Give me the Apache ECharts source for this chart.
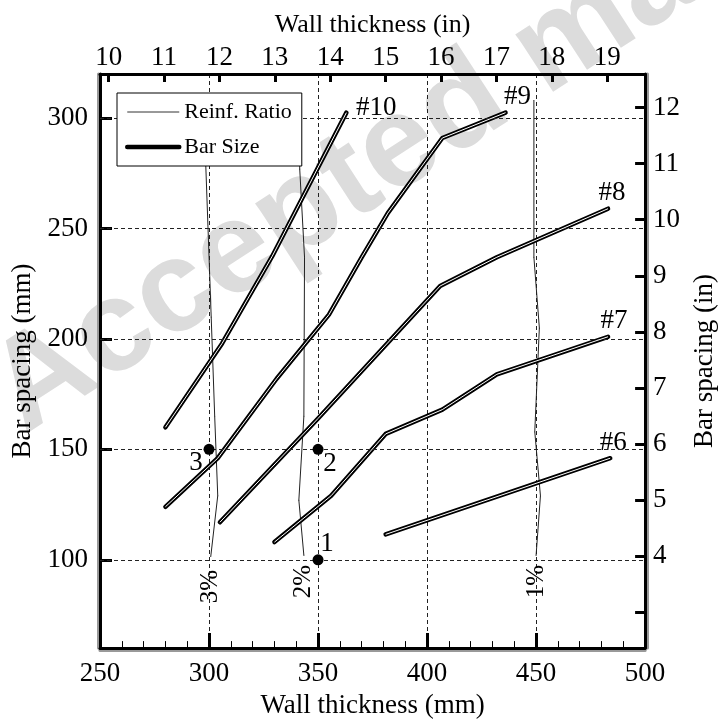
<!DOCTYPE html>
<html>
<head>
<meta charset="utf-8">
<script src="https://cdn.jsdelivr.net/npm/echarts@6/dist/echarts.min.js"></script>
<style>
html, body { margin: 0; padding: 0; background: #fff; }
#chart { width: 726px; height: 724px; }
</style>
</head>
<body>
<div id="chart"></div>
<script>
var FONT = '"Liberation Serif", "Times New Roman", serif';

// bar size curves: wall thickness (mm) vs bar spacing (mm)
var barNames = ['#10', '#9', '#8', '#7', '#6'];
var bar10X = [280, 306, 329, 363];
var bar10Y = [160, 198, 237.5, 302.5];
var bar9X = [280, 304, 331, 355, 370, 382, 407, 436];
var bar9Y = [124, 146, 182, 211, 237, 257, 291, 302.5];
var bar8X = [305, 350, 406, 432, 483];
var bar8Y = [117, 164, 224, 237, 259];
var bar7X = [330, 356, 381, 407, 432, 483];
var bar7Y = [108, 129, 157, 168, 184, 201];
var bar6X = [381, 484];
var bar6Y = [111.5, 146];

// reinforcement ratio curves
var ratioNames = ['3%', '2%', '1%'];
var ratio3X = [300.8, 304, 302.6, 301, 298.5, 298.3];
var ratio3Y = [101.5, 129, 165, 210, 279, 300];
var ratio2X = [343.5, 341.2, 343.5, 343.8, 341.6, 341.6];
var ratio2Y = [102, 127, 165, 237, 277, 300];
var ratio1X = [450, 452, 449.4, 451.5, 449, 449];
var ratio1Y = [102, 129, 158, 205, 237, 308];

// numbered design points
var pointNames = ['1', '2', '3'];
var pointX = [350, 350, 300];
var pointY = [100, 150, 150];

// axis ticks
var mmTicksY = [100, 150, 200, 250, 300];
var inTicksX = [10, 11, 12, 13, 14, 15, 16, 17, 18, 19];
var inLabelsY = [4, 5, 6, 7, 8, 9, 10, 11, 12];
var inTicksY = [3, 4, 5, 6, 7, 8, 9, 10, 11, 12];

var MM = 25.4;

function pairs(xs, ys) {
	return xs.map(function (x, i) { return [x, ys[i]]; });
}

var barXs = [bar10X, bar9X, bar8X, bar7X, bar6X];
var barYs = [bar10Y, bar9Y, bar8Y, bar7Y, bar6Y];
// where each bar label sits next to the end of its curve
var barLabelPos = [
	{ position: 'right', distance: 9, offset: [0, -5] },
	{ position: 'top', distance: 2, offset: [12, 0] },
	{ position: 'top', distance: 2, offset: [4, 0] },
	{ position: 'top', distance: 2, offset: [6, 0] },
	{ position: 'top', distance: 1, offset: [3, 0] }
];
var ratioXs = [ratio3X, ratio2X, ratio1X];
var ratioYs = [ratio3Y, ratio2Y, ratio1Y];
var ratioLabelOffset = [[-5, 0], [-1, 0], [-1, 0]];
var pointLabelOffset = [[9, -16], [12, 15], [-13, 14]];

var series = [];

// dashed horizontal grid lines
series.push({
	name: 'grid',
	type: 'line',
	data: [],
	z: 1,
	silent: true,
	markLine: {
		silent: true,
		symbol: 'none',
		animation: false,
		label: { show: false },
		lineStyle: { color: '#222', width: 1, type: [4, 3] },
		data: mmTicksY.map(function (v) { return { yAxis: v }; })
	}
});

ratioNames.forEach(function (name, k) {
	var pts = pairs(ratioXs[k], ratioYs[k]);
	series.push({
		name: 'Reinf. Ratio',
		type: 'line',
		symbol: 'circle',
		symbolSize: 1,
		z: 3,
		itemStyle: { color: '#222' },
		lineStyle: { color: '#222', width: 1 },
		data: pts.map(function (p, i) {
			if (i > 0) return p;
			return {
				value: p,
				label: {
					show: true,
					formatter: name,
					position: 'bottom',
					rotate: 90,
					align: 'right',
					verticalAlign: 'middle',
					distance: 8,
					offset: ratioLabelOffset[k],
					fontSize: 25,
					fontFamily: FONT,
					color: '#000'
				}
			};
		})
	});
});

barNames.forEach(function (name, k) {
	var pts = pairs(barXs[k], barYs[k]);
	var last = pts.length - 1;
	series.push({
		name: 'Bar Size',
		type: 'line',
		symbol: 'circle',
		symbolSize: 1,
		z: 4,
		itemStyle: { color: '#000' },
		lineStyle: { color: '#000', width: 4.5, cap: 'round', join: 'round' },
		data: pts.map(function (p, i) {
			if (i < last) return p;
			return {
				value: p,
				label: Object.assign({
					show: true,
					formatter: name,
					fontSize: 27,
					fontFamily: FONT,
					color: '#000'
				}, barLabelPos[k])
			};
		})
	});
	// white core of the double line
	series.push({
		name: 'core',
		type: 'line',
		symbol: 'none',
		z: 5,
		silent: true,
		lineStyle: { color: '#fff', width: 1 },
		data: pts
	});
});

series.push({
	name: 'points',
	type: 'scatter',
	symbol: 'circle',
	symbolSize: 11,
	z: 6,
	itemStyle: { color: '#000', opacity: 1 },
	data: pointNames.map(function (name, i) {
		return {
			value: [pointX[i], pointY[i]],
			label: {
				show: true,
				formatter: name,
				position: 'inside',
				offset: pointLabelOffset[i],
				fontSize: 27,
				fontFamily: FONT,
				color: '#000',
				opacity: 1,
				textBorderWidth: 0
			}
		};
	})
});

var option = {
	animation: false,
	backgroundColor: '#fff',
	textStyle: { fontFamily: FONT, color: '#000' },
	graphic: [{
		type: 'text',
		z: -1,
		silent: true,
		x: 5,
		y: 405,
		rotation: 33 * Math.PI / 180,
		style: {
			text: 'Accepted manuscript',
			fill: '#dcdcdc',
			font: 'bold 130px "Liberation Sans"',
			align: 'left',
			verticalAlign: 'middle'
		}
	}],
	grid: { left: 100, right: 69, top: 74, bottom: 70 },
	legend: {
		data: [
			{ name: 'Reinf. Ratio', lineStyle: { width: 1, color: '#333' } },
			{ name: 'Bar Size', lineStyle: { width: 4.5, color: '#000' } }
		],
		selectedMode: false,
		orient: 'vertical',
		left: 117,
		top: 93,
		padding: [8, 10, 8, 8],
		itemGap: 13,
		itemWidth: 52,
		itemHeight: 14,
		backgroundColor: '#fff',
		borderColor: '#000',
		borderWidth: 1,
		z: 10,
		itemStyle: { opacity: 0 },
		textStyle: { fontSize: 22, fontFamily: FONT, color: '#000' }
	},
	xAxis: [{
		type: 'value',
		position: 'bottom',
		min: 250,
		max: 500,
		interval: 50,
		name: 'Wall thickness (mm)',
		nameLocation: 'middle',
		nameGap: 41,
		nameTextStyle: { fontSize: 27, fontFamily: FONT, color: '#000' },
		axisLine: { lineStyle: { color: '#000', width: 3, shadowColor: '#999', shadowOffsetY: 2 } },
		axisTick: { inside: true, length: 15, lineStyle: { color: '#000', width: 3 } },
		minorTick: { show: true, splitNumber: 5, length: 7, lineStyle: { color: '#000', width: 1 } },
		axisLabel: { fontSize: 27, fontFamily: FONT, color: '#000', margin: 12 },
		splitLine: { show: true, lineStyle: { color: '#222', width: 1, type: [4, 3] } }
	}, {
		type: 'value',
		position: 'top',
		min: 250,
		max: 500,
		name: 'Wall thickness (in)',
		nameLocation: 'middle',
		nameGap: 36,
		nameTextStyle: { fontSize: 26, fontFamily: FONT, color: '#000' },
		axisLine: { lineStyle: { color: '#000', width: 3 } },
		axisTick: {
			inside: true,
			length: 8,
			lineStyle: { color: '#000', width: 3 },
			customValues: inTicksX.map(function (v) { return v * MM; })
		},
		axisLabel: {
			fontSize: 27,
			fontFamily: FONT,
			color: '#000',
			margin: 3,
			customValues: inTicksX.map(function (v) { return v * MM; }),
			formatter: function (v) { return String(Math.round(v / MM)); }
		},
		splitLine: { show: false }
	}],
	yAxis: [{
		type: 'value',
		position: 'left',
		min: 60,
		max: 320,
		name: 'Bar spacing (mm)',
		nameLocation: 'middle',
		nameGap: 64,
		nameTextStyle: { fontSize: 27, fontFamily: FONT, color: '#000' },
		axisLine: { lineStyle: { color: '#000', width: 3, shadowColor: '#999', shadowOffsetX: -2 } },
		axisTick: {
			inside: true,
			length: 12,
			lineStyle: { color: '#000', width: 3 },
			customValues: mmTicksY
		},
		axisLabel: {
			fontSize: 27,
			fontFamily: FONT,
			color: '#000',
			margin: 12,
			customValues: mmTicksY
		},
		splitLine: { show: false }
	}, {
		type: 'value',
		position: 'right',
		min: 60,
		max: 320,
		name: 'Bar spacing (in)',
		nameLocation: 'middle',
		nameGap: 38,
		nameTextStyle: { fontSize: 27, fontFamily: FONT, color: '#000' },
		axisLine: { lineStyle: { color: '#000', width: 3, shadowColor: '#999', shadowOffsetX: 2 } },
		axisTick: {
			inside: true,
			length: 10,
			lineStyle: { color: '#000', width: 3 },
			customValues: inTicksY.map(function (v) { return v * MM; })
		},
		axisLabel: {
			fontSize: 27,
			fontFamily: FONT,
			color: '#000',
			margin: 8,
			customValues: inLabelsY.map(function (v) { return v * MM; }),
			formatter: function (v) { return String(Math.round(v / MM)); }
		},
		splitLine: { show: false }
	}],
	series: series
};

var chart = echarts.init(document.getElementById('chart'));
chart.setOption(option);
</script>
</body>
</html>
